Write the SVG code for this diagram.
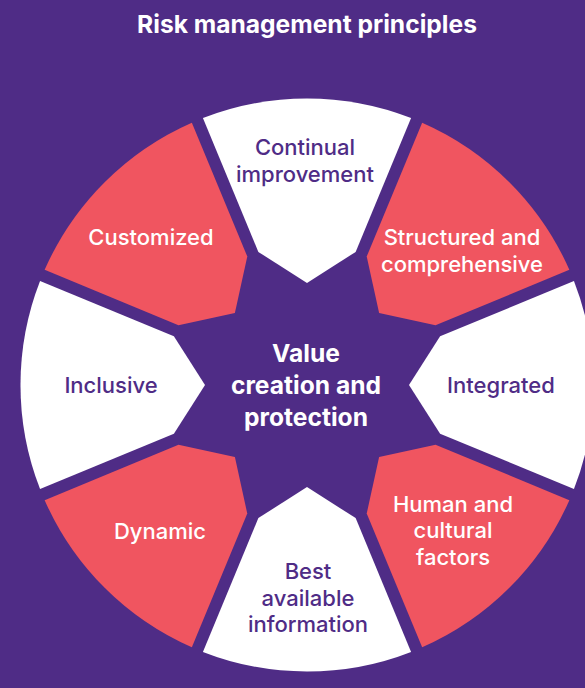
<svg xmlns="http://www.w3.org/2000/svg" width="585" height="688" viewBox="0 0 585 688">
  <style>
    .bg { fill: #4F2C86; }
    .seg-w { fill: #FFFFFF; }
    .seg-r { fill: #F05560; }
    text { font-family: Inter, "Noto Sans", "Liberation Sans", sans-serif; text-anchor: middle; }
    .title { font-size: 24.6px; font-weight: 700; fill: #FFFFFF; }
    .lbl { font-size: 22px; font-weight: 500; }
    .lbl-p { fill: #4F2C86; }
    .lbl-w { fill: #FFFFFF; }
    .center { font-size: 24.6px; font-weight: 700; fill: #FFFFFF; }
  </style>
  <defs>
    <path id="seg" d="M -48.64,-133.10 L -104.08,-266.94 A 286.5 286.5 0 0 1 104.08,-266.94 L 48.64,-133.10 L 0,-102 Z"/>
  </defs>
  <rect class="bg" x="0" y="0" width="585" height="688"/>
  <text class="title" x="307" y="33">Risk management principles</text>

  <g id="continual-improvement">
    <use href="#seg" class="seg-w" transform="translate(307,385) rotate(0)"/>
    <text class="lbl lbl-p" x="305" y="155">Continual</text>
    <text class="lbl lbl-p" x="305" y="182">improvement</text>
  </g>
  <g id="structured-comprehensive">
    <use href="#seg" class="seg-r" transform="translate(307,385) rotate(45)"/>
    <text class="lbl lbl-w" x="462" y="245">Structured and</text>
    <text class="lbl lbl-w" x="462" y="272">comprehensive</text>
  </g>
  <g id="integrated">
    <use href="#seg" class="seg-w" transform="translate(307,385) rotate(90)"/>
    <text class="lbl lbl-p" x="501" y="393">Integrated</text>
  </g>
  <g id="human-cultural-factors">
    <use href="#seg" class="seg-r" transform="translate(307,385) rotate(135)"/>
    <text class="lbl lbl-w" x="453" y="512">Human and</text>
    <text class="lbl lbl-w" x="453" y="538">cultural</text>
    <text class="lbl lbl-w" x="453" y="565">factors</text>
  </g>
  <g id="best-available-information">
    <use href="#seg" class="seg-w" transform="translate(307,385) rotate(180)"/>
    <text class="lbl lbl-p" x="308" y="579">Best</text>
    <text class="lbl lbl-p" x="308" y="606">available</text>
    <text class="lbl lbl-p" x="308" y="632">information</text>
  </g>
  <g id="dynamic">
    <use href="#seg" class="seg-r" transform="translate(307,385) rotate(225)"/>
    <text class="lbl lbl-w" x="160" y="539">Dynamic</text>
  </g>
  <g id="inclusive">
    <use href="#seg" class="seg-w" transform="translate(307,385) rotate(270)"/>
    <text class="lbl lbl-p" x="111" y="393">Inclusive</text>
  </g>
  <g id="customized">
    <use href="#seg" class="seg-r" transform="translate(307,385) rotate(315)"/>
    <text class="lbl lbl-w" x="151" y="245">Customized</text>
  </g>

  <g id="value-creation-protection">
    <text class="center" x="306" y="362">Value</text>
    <text class="center" x="306" y="394">creation and</text>
    <text class="center" x="306" y="426">protection</text>
  </g>
  <g id="connectors"></g>
</svg>
